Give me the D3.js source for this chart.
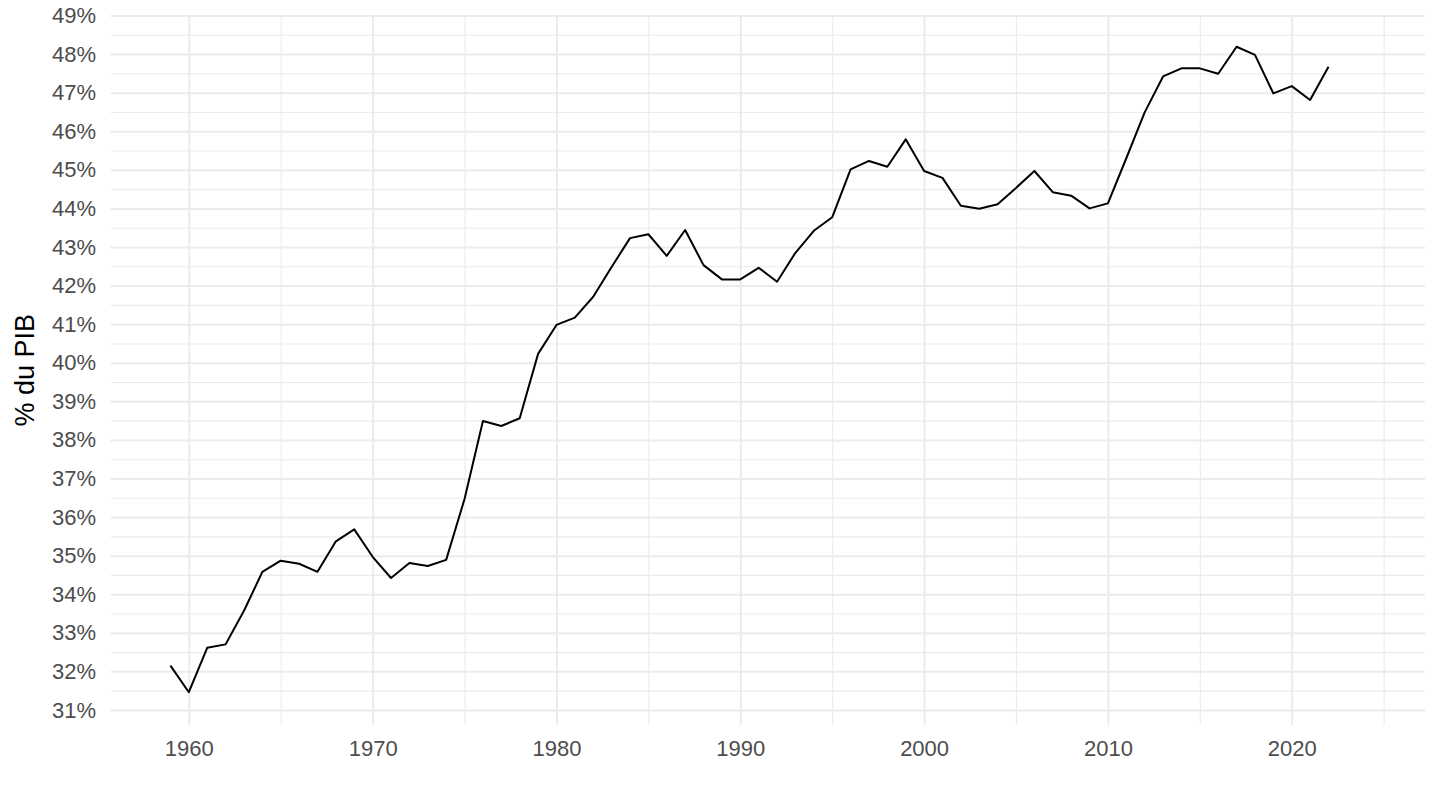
<!DOCTYPE html>
<html>
<head>
<meta charset="utf-8">
<script src="https://cdn.jsdelivr.net/npm/d3@7"></script>
<style>
	body { margin: 0; background: #fff; }
	svg text { font-family: "Liberation Sans", Arial, sans-serif; }
	.grid .domain { display: none; }
	.grid text { display: none; }
	.axis .domain { display: none; }
	.axis line { display: none; }
	.axis text { fill: #4d4d4d; font-size: 22px; }
</style>
</head>
<body>
<div id="container"></div>
<script>
// data: taux de prélèvements / dépenses en % du PIB
var years = [1959, 1960, 1961, 1962, 1963, 1964, 1965, 1966, 1967, 1968, 1969,
	1970, 1971, 1972, 1973, 1974, 1975, 1976, 1977, 1978, 1979,
	1980, 1981, 1982, 1983, 1984, 1985, 1986, 1987, 1988, 1989,
	1990, 1991, 1992, 1993, 1994, 1995, 1996, 1997, 1998, 1999,
	2000, 2001, 2002, 2003, 2004, 2005, 2006, 2007, 2008, 2009,
	2010, 2011, 2012, 2013, 2014, 2015, 2016, 2017, 2018, 2019,
	2020, 2021, 2022];
var values = [32.15, 31.46, 32.61, 32.70, 33.57, 34.58, 34.87, 34.79, 34.58, 35.37, 35.68,
	34.97, 34.42, 34.81, 34.73, 34.89, 36.47, 38.49, 38.36, 38.56, 40.23,
	40.98, 41.17, 41.71, 42.48, 43.23, 43.33, 42.77, 43.44, 42.53, 42.16,
	42.16, 42.46, 42.10, 42.85, 43.42, 43.77, 45.01, 45.23, 45.08, 45.79,
	44.97, 44.79, 44.07, 43.99, 44.11, 44.53, 44.97, 44.42, 44.33, 44.00,
	44.13, 45.30, 46.49, 47.42, 47.63, 47.63, 47.49, 48.19, 47.98, 46.98,
	47.17, 46.81, 47.67];
var yTicks = [31, 32, 33, 34, 35, 36, 37, 38, 39, 40, 41, 42, 43, 44, 45, 46, 47, 48, 49];
var yMinor = [31.5, 32.5, 33.5, 34.5, 35.5, 36.5, 37.5, 38.5, 39.5, 40.5, 41.5, 42.5,
	43.5, 44.5, 45.5, 46.5, 47.5, 48.5];
var xTicks = [1960, 1970, 1980, 1990, 2000, 2010, 2020];
var xMinor = [1965, 1975, 1985, 1995, 2005, 2015, 2025];
var yTitle = "% du PIB";

var data = years.map(function(y, i) { return {year: y, value: values[i]}; });

var W = 1440, H = 810;
var margin = {top: 15.5, right: 15, bottom: 85, left: 110.7};
var width = W - margin.left - margin.right,
	height = H - margin.top - margin.bottom;

var xScale = d3.scaleLinear()
	.domain([1955.75, 2027.25])
	.range([0, width]);

var yScale = d3.scaleLinear()
	.domain([30.61, 49.0])
	.range([height, 0]);

var svg = d3.select("#container")
	.append("svg")
		.attr("width", W)
		.attr("height", H)
	.append("g")
		.attr("transform", "translate(" + margin.left + "," + margin.top + ")");

// minor grid
svg.append("g")
	.attr("class", "grid")
	.call(d3.axisLeft(yScale).tickValues(yMinor).tickSize(-width))
	.selectAll("line")
		.attr("stroke", "#ebebeb")
		.attr("stroke-width", 1.1);

svg.append("g")
	.attr("class", "grid")
	.attr("transform", "translate(0," + height + ")")
	.call(d3.axisBottom(xScale).tickValues(xMinor).tickSize(-height))
	.selectAll("line")
		.attr("stroke", "#ebebeb")
		.attr("stroke-width", 1.1);

// major grid
svg.append("g")
	.attr("class", "grid")
	.call(d3.axisLeft(yScale).tickValues(yTicks).tickSize(-width))
	.selectAll("line")
		.attr("stroke", "#ebebeb")
		.attr("stroke-width", 2);

svg.append("g")
	.attr("class", "grid")
	.attr("transform", "translate(0," + height + ")")
	.call(d3.axisBottom(xScale).tickValues(xTicks).tickSize(-height))
	.selectAll("line")
		.attr("stroke", "#ebebeb")
		.attr("stroke-width", 2);

// axes labels
svg.append("g")
	.attr("class", "axis")
	.call(d3.axisLeft(yScale)
		.tickValues(yTicks)
		.tickSize(0)
		.tickPadding(14.7)
		.tickFormat(function(d) { return d + "%"; }));

svg.append("g")
	.attr("class", "axis")
	.attr("transform", "translate(0," + height + ")")
	.call(d3.axisBottom(xScale)
		.tickValues(xTicks)
		.tickSize(0)
		.tickPadding(15)
		.tickFormat(d3.format("d")));

// y title
svg.append("text")
	.attr("transform", "translate(" + (33.5 - margin.left) + "," + (height / 2) + ") rotate(-90)")
	.attr("text-anchor", "middle")
	.style("font-size", "27px")
	.style("fill", "#000")
	.text(yTitle);

// line
var line = d3.line()
	.x(function(d) { return xScale(d.year); })
	.y(function(d) { return yScale(d.value); });

svg.append("path")
	.datum(data)
	.attr("fill", "none")
	.attr("stroke", "#000")
	.attr("stroke-width", 2)
	.attr("stroke-linejoin", "round")
	.attr("d", line);
</script>
</body>
</html>
